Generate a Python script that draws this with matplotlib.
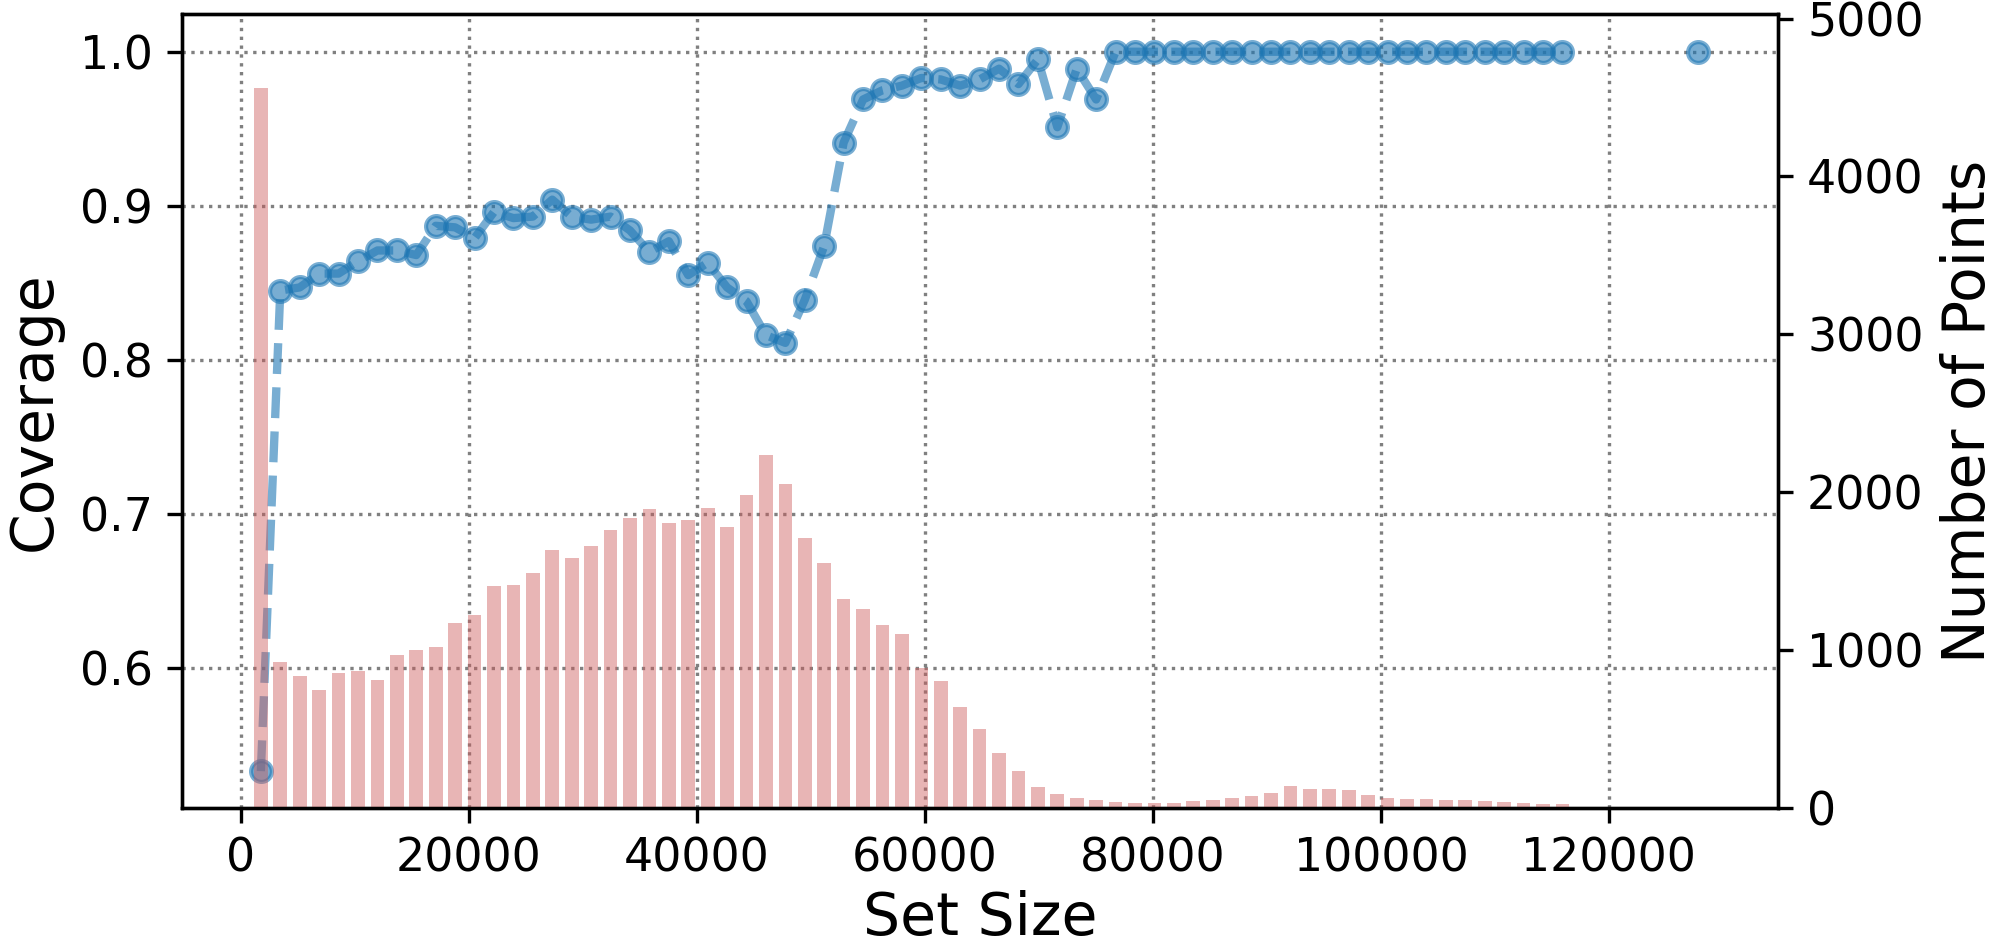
import numpy as np
import matplotlib.pyplot as plt

# bin centres of the set-size histogram
set_size = [1750, 3454, 5158, 6862, 8566, 10270, 11974, 13678, 15382, 17086,
            18790, 20494, 22198, 23902, 25606, 27310, 29014, 30718, 32422, 34126,
            35830, 37534, 39238, 40942, 42646, 44350, 46054, 47758, 49462, 51166,
            52870, 54574, 56278, 57982, 59686, 61390, 63094, 64798, 66502, 68206,
            69910, 71614, 73318, 75022, 76726, 78430, 80134, 81838, 83542, 85246,
            86950, 88654, 90358, 92062, 93766, 95470, 97174, 98878, 100582, 102286,
            103990, 105694, 107398, 109102, 110806, 112510, 114214, 115918, 117622, 119326,
            121030, 122734, 124438, 126142, 127846]

coverage = [0.533, 0.845, 0.847, 0.856, 0.856, 0.864, 0.871, 0.871, 0.868, 0.887,
            0.886, 0.879, 0.896, 0.892, 0.893, 0.904, 0.893, 0.891, 0.893, 0.884,
            0.870, 0.877, 0.855, 0.863, 0.847, 0.838, 0.816, 0.811, 0.839, 0.874,
            0.941, 0.969, 0.975, 0.978, 0.983, 0.982, 0.978, 0.982, 0.989, 0.979,
            0.995, 0.951, 0.989, 0.969, 1.0, 1.0, 1.0, 1.0, 1.0, 1.0,
            1.0, 1.0, 1.0, 1.0, 1.0, 1.0, 1.0, 1.0, 1.0, 1.0,
            1.0, 1.0, 1.0, 1.0, 1.0, 1.0, 1.0, 1.0, np.nan, np.nan,
            np.nan, np.nan, np.nan, np.nan, 1.0]

num_points = [4561, 923, 833, 743, 850, 867, 808, 964, 998, 1019,
              1170, 1220, 1403, 1409, 1486, 1630, 1581, 1657, 1757, 1833,
              1892, 1805, 1824, 1896, 1778, 1978, 2234, 2050, 1706, 1552,
              1320, 1260, 1159, 1102, 885, 804, 639, 496, 343, 231,
              130, 85, 60, 45, 35, 30, 28, 30, 40, 50,
              60, 75, 90, 135, 120, 115, 110, 80, 60, 55,
              55, 50, 45, 40, 35, 30, 25, 20, 0, 0,
              0, 0, 0, 0, 3]

fig = plt.figure(figsize=(1997 / 300, 947 / 300), dpi=300)
ax = fig.add_axes([0.0911, 0.1473, 0.7992, 0.8376])

ax.plot(set_size, coverage, 'o--', color='tab:blue', alpha=0.6, lw=2, markersize=5)
ax.set_xlim(-5175, 134825)
ax.set_ylim(0.5094, 1.0243)
ax.set_yticks([0.6, 0.7, 0.8, 0.9, 1.0])
ax.set_xticks(range(0, 120001, 20000))
ax.grid(color='gray', linestyle=':', linewidth=0.8)
ax.set_xlabel('Set Size', fontsize=14, labelpad=2)
ax.set_ylabel('Coverage', fontsize=14)
ax.tick_params(labelsize=11)

ax2 = ax.twinx()
ax2.bar(set_size, num_points, width=1200, color='indianred', alpha=0.45)
ax2.set_ylim(0, 5027)
ax2.set_yticks(range(0, 5001, 1000))
ax2.set_ylabel('Number of Points', fontsize=14)
ax2.tick_params(labelsize=11)

fig.savefig('out.png', dpi=300)
